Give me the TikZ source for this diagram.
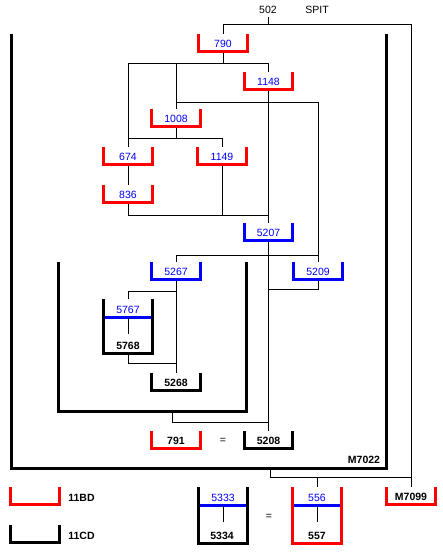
\documentclass[tikz,border=0pt]{standalone}
\usepackage{fontspec}
\setmainfont{Liberation Sans}
\usetikzlibrary{positioning}
\definecolor{trayred}{RGB}{255,0,0}
\definecolor{numblue}{RGB}{0,0,255}
\begin{document}
\begin{tikzpicture}[x=1pt, y=-1pt,
  font=\fontsize{10.5}{12}\selectfont,
  tray/.style={minimum width=48pt, minimum height=17pt, inner sep=0pt, text height=10.5pt, text depth=0pt},
  cut/.style={minimum width=48pt, inner sep=0pt},
  num/.style={text=numblue},
  bold/.style={font=\fontsize{10.5}{12}\selectfont\bfseries},
  rim/.style={line width=3pt},
  link/.style={line width=1pt}]
  \fill[white] (0,0) rectangle (443,553);
  \useasboundingbox (0,0) rectangle (443,553);
  % labels at the top
  \node (n502) at (268,10) {502};
  \node (spit) at (317,10) {SPIT};
  % enclosing contexts
  \node[minimum width=375pt, minimum height=434.5pt, inner sep=0pt] (m7022) at (199,251.25) {};
  \node[bold] (m7022lbl) at (364,460) {M7022};
  \node[minimum width=188pt, minimum height=149.5pt, inner sep=0pt] (pit) at (152.5,336.75) {};
  % trays
  \node[tray, num] (n790) at (223,42.5) {790};
  \node[tray, num] (n1148) at (268.5,80.5) {1148};
  \node[tray, num] (n1008) at (176,117.5) {1008};
  \node[tray, num] (n674) at (128,155.5) {674};
  \node[tray, num] (n1149) at (222,155.5) {1149};
  \node[tray, num] (n836) at (128,193.5) {836};
  \node[tray, num] (n5207) at (268.5,231.5) {5207};
  \node[tray, num] (n5267) at (176,270.5) {5267};
  \node[tray, num] (n5209) at (318,270.5) {5209};
  \node[tray, bold] (n5268) at (176,381.5) {5268};
  \node[tray, bold] (n791) at (176,439.5) {791};
  \node (eq1) at (223,441) {=};
  \node[tray, bold] (n5208) at (268.5,439.5) {5208};
  \node[tray, bold] (nM7099) at (411,495.5) {M7099};
  % two-part trays
  \node[cut, minimum height=54.5pt] (b5767) at (128,326.25) {};
  \node[num] (t5767) at (128,310) {5767};
  \node[bold] (t5768) at (128,346) {5768};
  \node[cut, minimum height=56.5pt] (b5333) at (223,515.25) {};
  \node[num] (t5333) at (223,498) {5333};
  \node[bold] (t5334) at (222,536) {5334};
  \node (eq2) at (269,517) {=};
  \node[cut, minimum height=56.5pt] (b556) at (317,515.25) {};
  \node[num] (t556) at (317,498) {556};
  \node[bold] (t557) at (317,536) {557};
  % key
  \node[tray] (key11bd) at (35,495.5) {};
  \node[bold, inner sep=0pt, right=9pt of key11bd, yshift=-2pt] (t11bd) {11BD};
  \node[tray] (key11cd) at (35,533.5) {};
  \node[bold, inner sep=0pt, right=9pt of key11cd, yshift=-2pt] (t11cd) {11CD};

  % connectors
  \draw[link] (n790.north) -- ++(0,-9) coordinate (feed) -| (nM7099.north);
  \draw[link] (n502.south) -- (n502.south |- feed);
  \draw[link] (n790.south) -- ++(0,12) coordinate (j1);
  \draw[link] (n674.north) |- (j1) -| (n1148.north);
  \draw[link] (n1008.north) -- (n1008.north |- j1);
  \draw[link] (n1008.north) ++(0,-6) -| (n5209.north);
  \draw[link] (n1008.south) -- ++(0,12) coordinate (j2);
  \draw[link] (j2 -| n674.north) -| (n1149.north);
  \draw[link] (n674.south) -- (n836.north);
  \draw[link] (n836.south) -- ++(0,13) coordinate (j3) -- (j3 -| n1148.south);
  \draw[link] (n1149.south) -- (n1149.south |- j3);
  \draw[link] (n1148.south) -- (n5207.north);
  \draw[link] (n5207.south) -- (n5208.north);
  \path (n5207.south) ++(0,15) coordinate (j4);
  \draw[link] (n5267.north) |- (j4) -- (j4 -| n5209.north);
  \draw[link] (n5209.south) -- ++(0,10) coordinate (j5) -- (j5 -| n5207.south);
  \draw[link] (n5267.south) -- (n5268.north);
  \draw[link] (b5767.north) -- ++(0,-7) coordinate (j6) -- (j6 -| n5267.south);
  \draw[link] (b5767.south) -- ++(0,9.5) coordinate (j7) -- (j7 -| n5268.north);
  \draw[link] ([xshift=20pt]pit.south) -- ++(0,10.5) coordinate (j8) -- (j8 -| n5208.north);
  \draw[link] ([xshift=71pt]m7022.south) -- ++(0,8.5) coordinate (j9) -- (j9 -| nM7099.north);
  \draw[link] (b556.north) -- (b556.north |- j9);

  % dividers and stems of the two-part trays
  \foreach \n in {b5767, b5333, b556} {
    \draw[rim, numblue] ([yshift=-19pt]\n.north west) -- ([yshift=-19pt]\n.north east);
    \draw[link] ([yshift=-19pt]\n.north) -- ++(0,16);
  }
  % tray rims
  \foreach \n/\c in {n790/trayred, n1148/trayred, n1008/trayred, n674/trayred,
      n1149/trayred, n836/trayred, n791/trayred, nM7099/trayred, key11bd/trayred,
      b556/trayred, n5207/numblue, n5267/numblue, n5209/numblue, n5268/black,
      n5208/black, key11cd/black, b5767/black, b5333/black, m7022/black, pit/black}
    \draw[rim, \c] (\n.north west) -- (\n.south west) -- (\n.south east) -- (\n.north east);
\end{tikzpicture}
\end{document}
